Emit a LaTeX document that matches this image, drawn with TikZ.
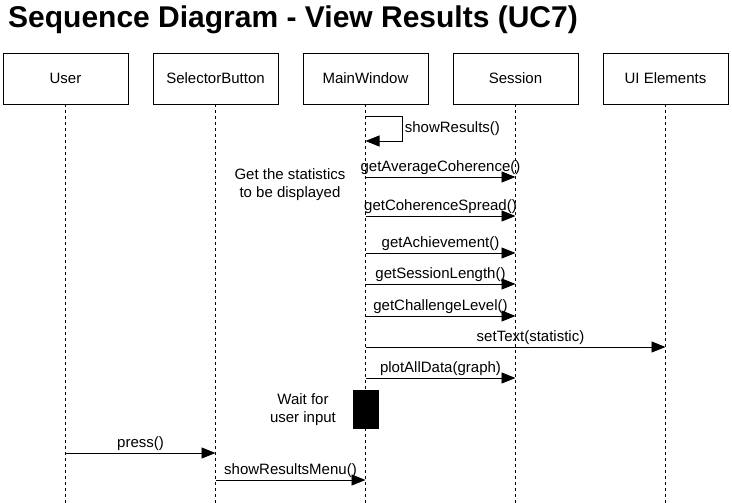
\documentclass[tikz,border=0pt]{standalone}
\usepackage{fontspec}
\setmainfont{Liberation Sans}
\usetikzlibrary{arrows.meta}
\usetikzlibrary{positioning}
\tikzstyle{actor}=[rectangle,draw,line width=0.8pt,minimum width=125pt,minimum height=51pt,inner sep=0pt,font=\fontsize{15}{17}\selectfont]
\tikzstyle{lifeline}=[draw,dashed,dash pattern=on 3pt off 3pt,line width=0.8pt]
\tikzstyle{msg}=[-{Triangle[length=14pt,width=11pt]},line width=0.8pt]
\tikzstyle{lbl}=[font=\fontsize{15}{17}\selectfont,inner sep=2pt]
\tikzstyle{note}=[font=\fontsize{15}{18}\selectfont,align=center,inner sep=0pt]

\begin{document}
\begin{tikzpicture}[x=1pt,y=-1pt]
\useasboundingbox (0,0) rectangle (732,503);
\node[anchor=base west,inner sep=0pt,font=\bfseries\fontsize{30}{34}\selectfont] (title) at (8,28) {Sequence Diagram - View Results (UC7)};
\node[actor] (user) at (65.5,78.5) {User};
\node[actor] (sel) at (215.5,78.5) {SelectorButton};
\node[actor] (mw) at (365.5,78.5) {MainWindow};
\node[actor] (ses) at (515.5,78.5) {Session};
\node[actor] (ui) at (665.5,78.5) {UI Elements};
%Lifelines
\foreach \n in {user,sel,mw,ses,ui}
  \draw[lifeline] (\n.south) -- (\n |- 0,503);
%Notes
\node[note] (stat) at (290,185) {Get the statistics\\to be displayed};
\node[fill=black,minimum width=26pt,minimum height=39pt,inner sep=0pt] (act) at (366,409.5) {};
\node[note] (wait) at (303,410) {Wait for\\user input};
%Messages
\draw[msg] (mw |- 0,116) -- ++(37,0) |- (mw |- 0,141) node[lbl,pos=0.25,right] {showResults()};
\draw[msg] (mw |- 0,177) -- (ses |- 0,177) node[lbl,midway,above] {getAverageCoherence()};
\draw[msg] (mw |- 0,216) -- (ses |- 0,216) node[lbl,midway,above] {getCoherenceSpread()};
\draw[msg] (mw |- 0,253) -- (ses |- 0,253) node[lbl,midway,above] {getAchievement()};
\draw[msg] (mw |- 0,284) -- (ses |- 0,284) node[lbl,midway,above] {getSessionLength()};
\draw[msg] (mw |- 0,316) -- (ses |- 0,316) node[lbl,midway,above] {getChallengeLevel()};
\draw[msg] (mw |- 0,347) -- (ui |- 0,347) node[lbl,pos=0.55,above] {setText(statistic)};
\draw[msg] (mw |- 0,378) -- (ses |- 0,378) node[lbl,midway,above] {plotAllData(graph)};
\draw[msg] (user |- 0,453) -- (sel |- 0,453) node[lbl,midway,above] {press()};
\draw[msg] (sel |- 0,480) -- (mw |- 0,480) node[lbl,midway,above] {showResultsMenu()};
\end{tikzpicture}
\end{document}
